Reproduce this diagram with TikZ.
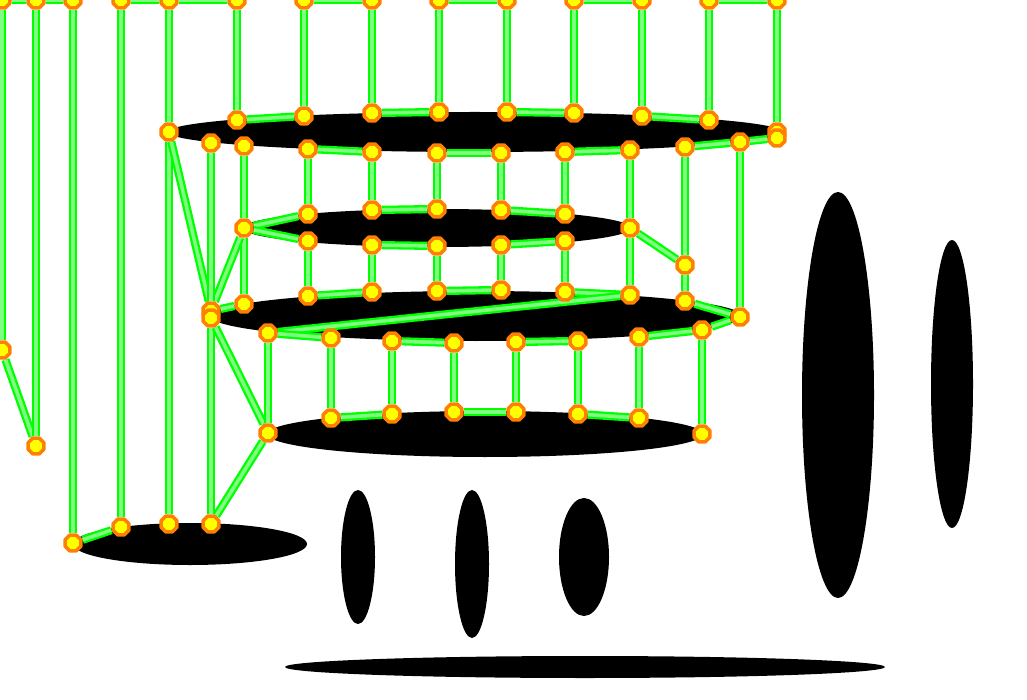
\documentclass[tikz,border=0pt]{standalone}
\usetikzlibrary{shapes.geometric}
\definecolor{vgreen}{HTML}{00FF00}
\definecolor{vlight}{HTML}{80FF80}
\definecolor{vorange}{HTML}{FF8000}
\definecolor{vyellow}{HTML}{FFFF00}
\pgfdeclarelayer{back}
\pgfsetlayers{back,main}
\begin{document}
\begin{tikzpicture}[x=1pt, y=-1pt, line cap=round, line join=round,
    vtx/.style={regular polygon, regular polygon sides=8, minimum size=17pt, inner sep=0pt,
      fill=vyellow, draw=vorange, line width=3.6pt},
    wire/.style={draw=vgreen, line width=2.3pt, double=vlight, double distance=3.6pt}]
  \useasboundingbox (0,0) rectangle (1027,700);
  % top row
  \foreach \n/\x in {0/2,1/36,2/73,3/121,4/169,5/237,6/304,7/372,8/439,9/507,10/574,11/642,12/709,13/777}
    \node[vtx] (t\n) at (\x,0) {};
  \node[vtx] (l0) at (2,350) {};
  \node[vtx] (l1) at (36,446) {};
  \foreach \n/\x/\y in {0/73/543,1/121/527,2/169/524,3/211/524}
    \node[vtx] (e\n) at (\x,\y) {};
  % first ring
  \foreach \n/\x/\y in {0/169/132,1/237/120,2/304/116,3/372/113,4/439/112,5/507/112,6/574/113,7/642/116,8/709/120,9/777/132}
    \node[vtx] (a\n) at (\x,\y) {};
  \foreach \n/\x/\y in {0/211/143,1/244/146,2/308/149,3/372/152,4/437/153,5/501/153,6/565/152,7/630/150,8/685/147,9/740/142,10/777/138}
    \node[vtx] (b\n) at (\x,\y) {};
  % second ring
  \foreach \n/\x/\y in {0/244/228,1/308/214,2/372/210,3/437/209,4/501/210,5/565/214,6/630/228}
    \node[vtx] (c\n) at (\x,\y) {};
  \foreach \n/\x/\y in {1/308/241,2/372/245,3/437/246,4/501/245,5/565/241}
    \node[vtx] (d\n) at (\x,\y) {};
  \node[vtx] (g) at (685,265) {};
  % third ring
  \foreach \n/\x/\y in {0/211/311,10/211/318,1/244/304,2/308/296,3/372/292,4/437/291,5/501/290,6/565/292,7/630/295,8/685/301,9/740/317}
    \node[vtx] (f\n) at (\x,\y) {};
  \foreach \n/\x/\y in {0/268/333,1/331/338,2/392/341,3/454/343,4/516/342,5/578/341,6/639/337,7/702/330}
    \node[vtx] (k\n) at (\x,\y) {};
  % fourth ring
  \foreach \n/\x/\y in {0/268/433,1/331/418,2/392/414,3/454/412,4/516/412,5/578/414,6/639/418,7/702/434}
    \node[vtx] (h\n) at (\x,\y) {};

  \begin{pgfonlayer}{back}
    % black ellipses
    \fill (475,132) ellipse [x radius=307pt, y radius=20pt];
    \fill (437,228) ellipse [x radius=194pt, y radius=19pt];
    \fill (476,316) ellipse [x radius=266pt, y radius=25pt];
    \fill (485,434) ellipse [x radius=218pt, y radius=23pt];
    \fill (190,544) ellipse [x radius=117pt, y radius=21pt];
    \fill (358,557) ellipse [x radius=17pt, y radius=67pt];
    \fill (472,564) ellipse [x radius=17pt, y radius=74pt];
    \fill (584,557) ellipse [x radius=25pt, y radius=59pt];
    \fill (838,395) ellipse [x radius=36pt, y radius=203pt];
    \fill (952,384) ellipse [x radius=21pt, y radius=144pt];
    \fill (585,667) ellipse [x radius=300pt, y radius=11pt];
    % wires
    \foreach \p/\q in {t0/t1,t1/t2,t3/t4,t4/t5,t6/t7,t8/t9,t10/t11,t12/t13,
        t0/l0,l0/l1,t1/l1,t2/e0,e0/e1,t3/e1,t4/a0,a0/e2,
        t5/a1,t6/a2,t7/a3,t8/a4,t9/a5,t10/a6,t11/a7,t12/a8,t13/a9,
        a1/a2,a3/a4,a5/a6,a7/a8,b2/b3,b4/b5,b6/b7,b8/b9,b9/b10,
        b1/c0,b2/c1,b3/c2,b4/c3,b5/c4,b6/c5,b7/c6,
        c0/c1,c0/d1,c2/c3,c4/c5,d2/d3,d4/d5,c6/g,b8/g,g/f8,f8/f9,b9/f9,
        c0/f1,d1/f2,d2/f3,d3/f4,d4/f5,d5/f6,c6/f7,f2/f3,f4/f5,f6/f7,
        f0/f1,a0/f0,c0/f0,b0/f0,f10/e3,f10/h0,h0/e3,
        k0/f7,k0/k1,k2/k3,k4/k5,k6/k7,k7/f9,h1/h2,h3/h4,h5/h6}
      \draw[wire] (\p) -- (\q);
    \foreach \i in {0,...,7}
      \draw[wire] (k\i) -- (h\i);
  \end{pgfonlayer}
\end{tikzpicture}
\end{document}
